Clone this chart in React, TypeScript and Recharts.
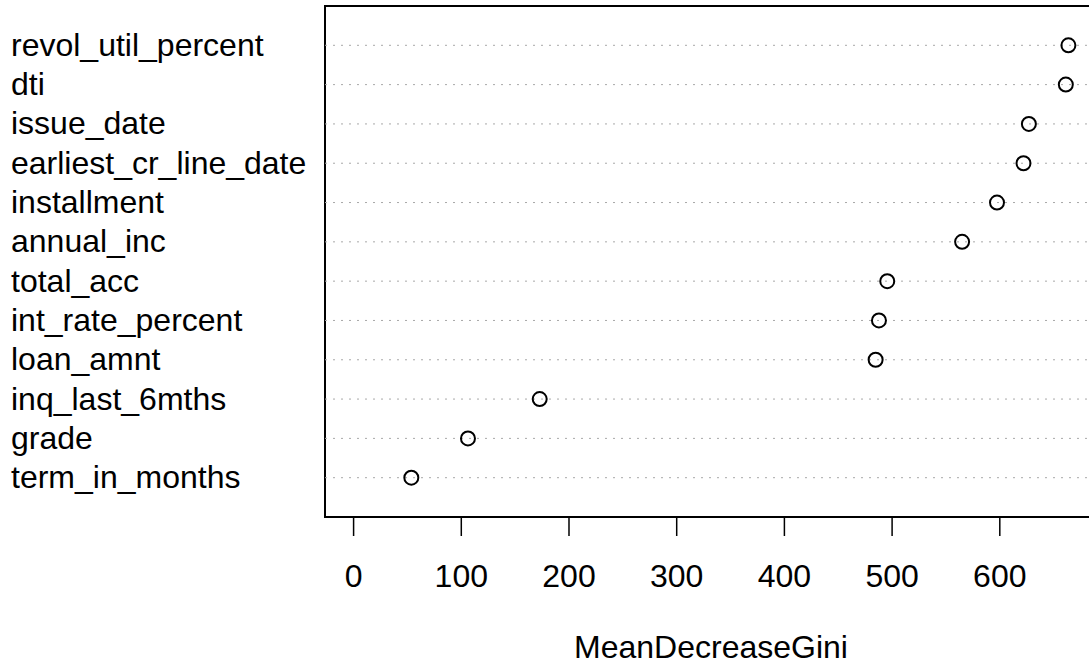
import {
  ReferenceArea,
  ReferenceLine,
  Scatter,
  ScatterChart,
  XAxis,
  YAxis,
  Label,
} from "recharts";

// bottom to top, as the dotchart draws them
const FEATURES = [
  "term_in_months",
  "grade",
  "inq_last_6mths",
  "loan_amnt",
  "int_rate_percent",
  "total_acc",
  "annual_inc",
  "installment",
  "earliest_cr_line_date",
  "issue_date",
  "dti",
  "revol_util_percent",
];
const GINI = [53.6, 106.2, 172.8, 484.7, 487.8, 495.5, 565, 597.4, 622, 627, 661.3, 663.7];
const X_TICKS = [0, 100, 200, 300, 400, 500, 600];

const FONT = "'Liberation Sans', Arial, Helvetica, sans-serif";
const FS = 32;

const rows = FEATURES.map((name, i) => ({ name, row: i + 1, gini: GINI[i] }));
const rowTicks = rows.map((r) => r.row);

// R pads the range [0, max] by 4% on each side
const maxGini = Math.max(...GINI);
const xDomain = [-0.04 * maxGini, maxGini * 1.04];

function RowLabel(props: any) {
  const { y, payload } = props;
  const r = rows.find((d) => d.row === payload.value);
  return (
    <text x={11} y={y} dy="0.33em" textAnchor="start" fontSize={FS} fontFamily={FONT} fill="#000">
      {r ? r.name : ""}
    </text>
  );
}

function Dot(props: any) {
  return <circle cx={props.cx} cy={props.cy} r={7} fill="none" stroke="#000" strokeWidth={2} />;
}

export default function App() {
  return (
    <div style={{ position: "absolute", left: 0, top: 0, width: 1089, height: 666, overflow: "hidden", background: "#fff" }}>
      <ScatterChart width={1097} height={666} margin={{ top: 6, right: 0, bottom: 0, left: 0 }}>
        <XAxis
          type="number"
          dataKey="gini"
          domain={xDomain}
          ticks={X_TICKS}
          allowDataOverflow
          axisLine={false}
          tickLine={{ stroke: "#000", strokeWidth: 1.5 }}
          tickSize={19}
          tickMargin={28}
          height={149}
          tick={{ fontSize: FS, fontFamily: FONT, fill: "#000" }}
        >
          <Label
            value="MeanDecreaseGini"
            position="insideBottom"
            offset={8}
            style={{ fontSize: FS, fontFamily: FONT, fill: "#000" }}
          />
        </XAxis>
        <YAxis
          type="number"
          dataKey="row"
          domain={[0, FEATURES.length + 1]}
          ticks={rowTicks}
          interval={0}
          width={325}
          axisLine={false}
          tickLine={false}
          tick={<RowLabel />}
        />
        {rows.map((r) => (
          <ReferenceLine key={r.name} y={r.row} stroke="#a8a8a8" strokeWidth={1} strokeDasharray="2 6" />
        ))}
        <ReferenceArea
          x1={xDomain[0]}
          x2={xDomain[1]}
          y1={0}
          y2={FEATURES.length + 1}
          fill="none"
          stroke="#000"
          strokeWidth={2}
          ifOverflow="visible"
        />
        <Scatter data={rows} shape={<Dot />} isAnimationActive={false} />
      </ScatterChart>
    </div>
  );
}
